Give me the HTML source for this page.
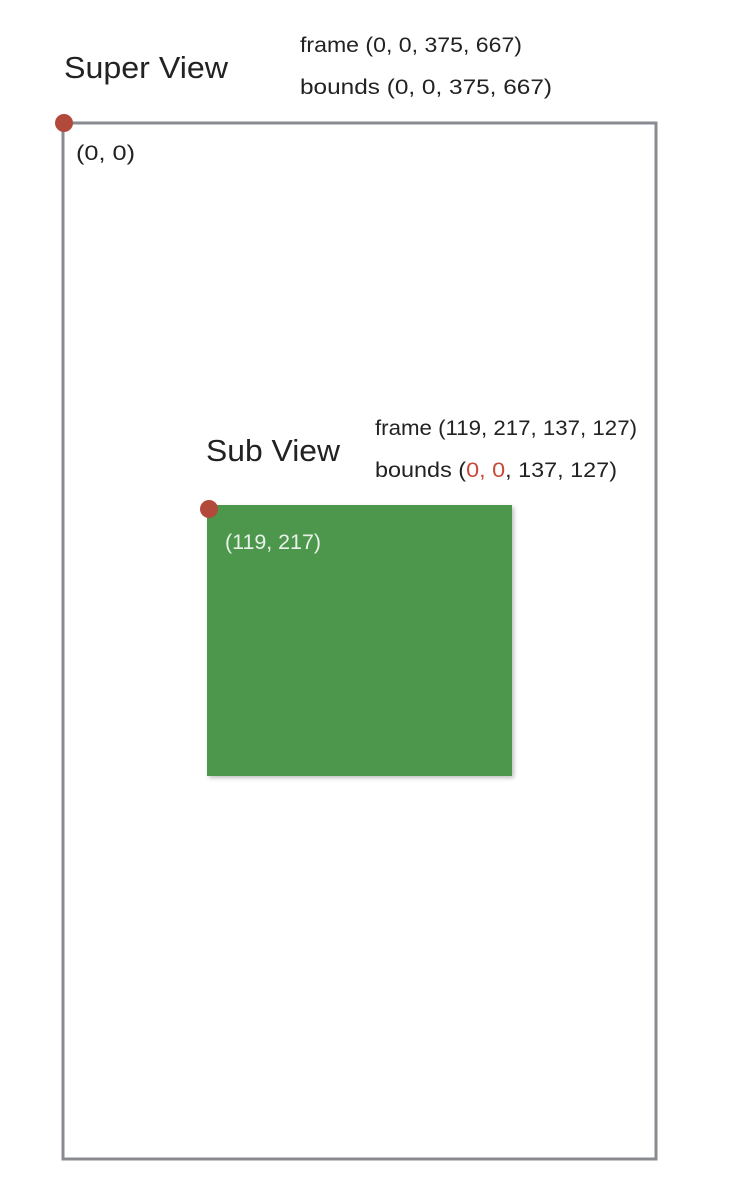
<!DOCTYPE html>
<html><head><meta charset="utf-8"><style>
html,body{margin:0;padding:0;background:#fff;width:734px;height:1188px;overflow:hidden}
svg{display:block}
text{font-family:"Liberation Sans","DejaVu Sans",sans-serif;fill:#222}
</style></head><body>
<svg width="734" height="1188" viewBox="0 0 734 1188">
<defs><filter id="sh" x="-5%" y="-5%" width="115%" height="115%"><feDropShadow dx="2" dy="2" stdDeviation="2" flood-color="#000" flood-opacity="0.25"/></filter></defs>
<rect x="63" y="123" width="593" height="1036" fill="#fff" stroke="#8a8b90" stroke-width="3"/>
<text x="64" y="78" font-size="31" textLength="164" lengthAdjust="spacingAndGlyphs">Super View</text>
<text x="300" y="52" font-size="21" textLength="222" lengthAdjust="spacingAndGlyphs">frame (0, 0, 375, 667)</text>
<text x="300" y="94" font-size="21" textLength="252" lengthAdjust="spacingAndGlyphs">bounds (0, 0, 375, 667)</text>
<circle cx="64" cy="123" r="9" fill="#b24a3c"/>
<text x="76" y="160" font-size="21" textLength="59" lengthAdjust="spacingAndGlyphs">(0, 0)</text>
<text x="206" y="461" font-size="31" textLength="134" lengthAdjust="spacingAndGlyphs">Sub View</text>
<text x="375" y="435" font-size="21" textLength="262" lengthAdjust="spacingAndGlyphs">frame (119, 217, 137, 127)</text>
<text x="375" y="477" font-size="21" textLength="242" lengthAdjust="spacingAndGlyphs">bounds (<tspan style="fill:#c9493a">0, 0</tspan>, 137, 127)</text>
<rect x="207" y="505" width="305" height="271" fill="#4e974e" filter="url(#sh)"/>
<circle cx="209" cy="509" r="9" fill="#b24a3c"/>
<text x="225" y="549" font-size="21" textLength="96" lengthAdjust="spacingAndGlyphs" style="fill:#e8f2e8">(119, 217)</text>
</svg>
</body></html>
